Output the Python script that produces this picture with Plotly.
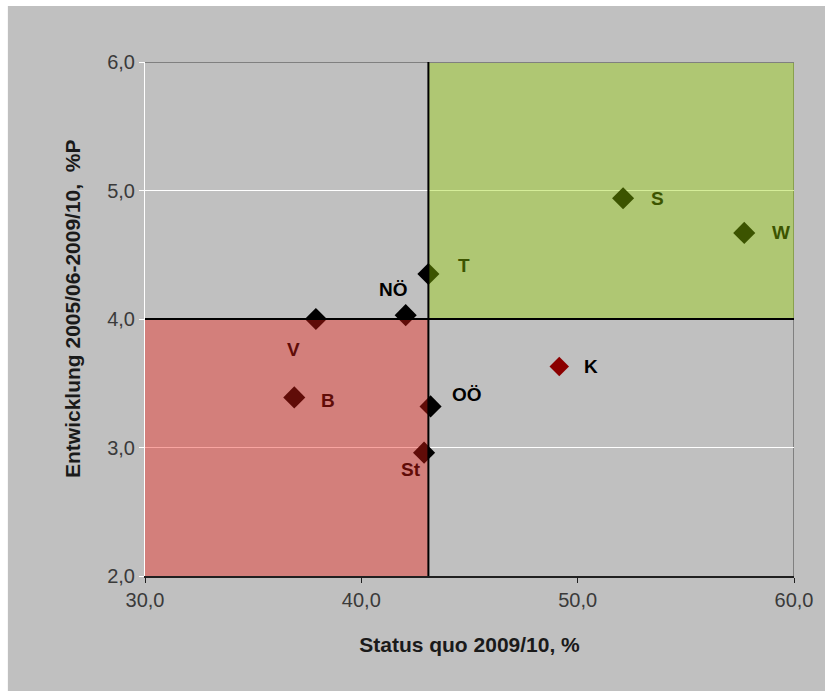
import plotly.graph_objects as go

# Data
regions = ["S", "W", "T", "NÖ", "V", "B", "OÖ", "St"]
status_quo = [52.1, 57.7, 43.1, 42.05, 37.9, 36.9, 43.2, 42.9]
entwicklung = [4.94, 4.67, 4.35, 4.03, 4.0, 3.39, 3.32, 2.96]

k_region = ["K"]
k_status = [49.15]
k_entw = [3.63]

x_thresh = 43.1
y_thresh = 4.0

x_ticks = [30, 40, 50, 60]
y_ticks = [2, 3, 4, 5, 6]

x_title = "Status quo 2009/10, %"
y_title = "Entwicklung 2005/06-2009/10,  %P"

# label offsets (pixels) and colours
label_dx = [34, 37, 36, -12, -22, 34, 36, -13]
label_dy = [0, 0, 9, 26, -30, -3, 12, -17]
label_col = ["#3c5400", "#3c5400", "#3c5400", "#000000", "#600c08", "#600c08", "#000000", "#600c08"]

fig = go.Figure()

fig.add_trace(go.Scatter(
    x=status_quo, y=entwicklung, mode="markers",
    marker=dict(symbol="diamond", size=17, color="black"),
    hoverinfo="text", text=regions, showlegend=False))

fig.add_trace(go.Scatter(
    x=k_status, y=k_entw, mode="markers",
    marker=dict(symbol="diamond", size=15, color="#8b0000"),
    hoverinfo="text", text=k_region, showlegend=False))

lab_font = "Liberation Sans, Arial"
for name, xv, yv, dx, dy, c in zip(regions, status_quo, entwicklung, label_dx, label_dy, label_col):
    fig.add_annotation(x=xv, y=yv, text="<b>" + name + "</b>", showarrow=False, xshift=dx, yshift=dy,
                       font=dict(family=lab_font, size=19, color=c))
fig.add_annotation(x=k_status[0], y=k_entw[0], text="<b>" + k_region[0] + "</b>", showarrow=False,
                   xshift=32, yshift=0, font=dict(family=lab_font, size=19, color="#000000"))

# y axis title as annotation (placed like the original)
fig.add_annotation(xref="paper", yref="paper", x=-0.112, y=0.52, text="<b>" + y_title + "</b>",
                   textangle=-90, showarrow=False, xanchor="center", yanchor="middle",
                   font=dict(family=lab_font, size=21, color="#1a1a1a"))

shapes = [
    # white outer frame (top and left)
    dict(type="rect", xref="paper", yref="paper", x0=-0.3, x1=1.1, y0=1.109, y1=1.2,
         fillcolor="white", line_width=0, layer="below"),
    dict(type="rect", xref="paper", yref="paper", x0=-0.3, x1=-0.2113, y0=-0.3, y1=1.2,
         fillcolor="white", line_width=0, layer="below"),
    # right border
    dict(type="line", xref="x", yref="y", x0=60, x1=60, y0=2, y1=6, line=dict(color="#808080", width=2), layer="below"),
    # quadrants
    dict(type="rect", xref="x", yref="y", x0=30, x1=x_thresh, y0=2, y1=y_thresh,
         fillcolor="rgba(240,30,20,0.4)", line_width=0, layer="above"),
    dict(type="rect", xref="x", yref="y", x0=x_thresh, x1=60, y0=y_thresh, y1=6,
         fillcolor="rgba(150,210,0,0.4)", line_width=0, layer="above"),
    # top border
    dict(type="line", xref="x", yref="y", x0=30, x1=60, y0=6, y1=6, line=dict(color="#808080", width=2), layer="above"),
    # threshold lines
    dict(type="line", xref="x", yref="y", x0=30, x1=60, y0=y_thresh, y1=y_thresh, line=dict(color="black", width=2), layer="above"),
    dict(type="line", xref="x", yref="y", x0=x_thresh, x1=x_thresh, y0=2, y1=6, line=dict(color="black", width=2), layer="above"),
]

fig.update_layout(
    width=825, height=691, autosize=False,
    margin=dict(l=145, r=27, t=62, b=115),
    paper_bgcolor="#c0c0c0", plot_bgcolor="#c0c0c0",
    separators=",.",
    shapes=shapes,
    font=dict(family="Liberation Sans, Arial", color="#333333"),
    xaxis=dict(
        range=[30, 60], tickvals=x_ticks, tickformat=".1f",
        showgrid=False, zeroline=False,
        showline=True, linecolor="#202020", linewidth=1.5,
        ticks="outside", ticklen=5, tickcolor="#202020",
        tickfont=dict(size=20, color="#3a3a3a"),
        title=dict(text="<b>" + x_title + "</b>", standoff=28,
                   font=dict(family="Liberation Sans, Arial", size=21, color="#1a1a1a")),
    ),
    yaxis=dict(
        range=[2, 6], tickvals=y_ticks, tickformat=".1f",
        showgrid=True, gridcolor="white", gridwidth=1,
        zeroline=False,
        showline=True, linecolor="white", linewidth=1,
        ticks="outside", ticklen=5, tickcolor="white",
        tickfont=dict(size=20, color="#3a3a3a"),
    ),
)

fig.write_html("out.html",
               config={"responsive": False, "displayModeBar": False},
               post_script="document.body.style.margin='0';document.body.style.overflow='hidden';")
